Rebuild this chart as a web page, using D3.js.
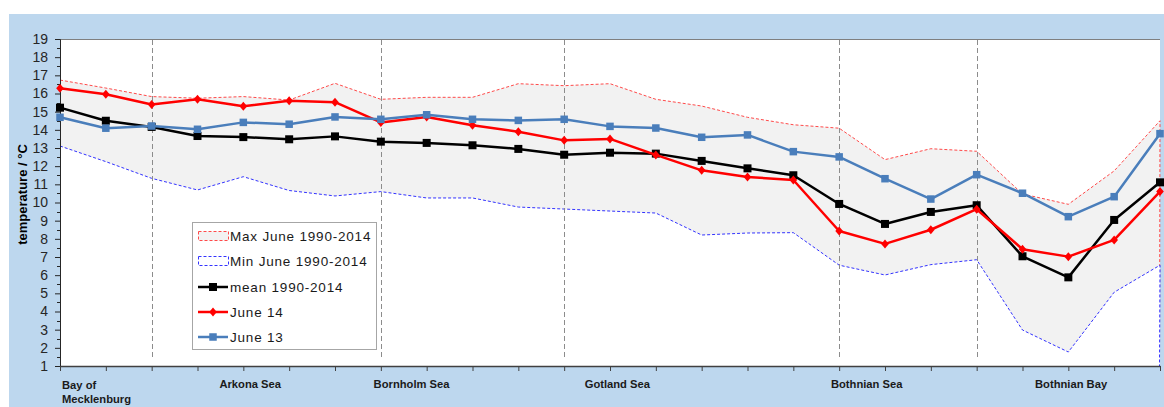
<!DOCTYPE html>
<html>
<head>
<meta charset="utf-8">
<script src="https://cdn.jsdelivr.net/npm/d3@7"></script>
<style>
  body { margin: 0; background: #fff; }
  svg { display: block; font-family: "Liberation Sans", Arial, sans-serif; }
</style>
</head>
<body>
<svg id="chart" width="1164" height="407"></svg>
<script>
// Station sequence along the Baltic transect (Bay of Mecklenburg -> Bothnian Bay)
const stations = [1, 2, 3, 4, 5, 6, 7, 8, 9, 10, 11, 12, 13, 14, 15, 16, 17, 18, 19, 20, 21, 22, 23, 24, 25];

// June surface temperatures, °C
const maxJune = [16.74, 16.3, 15.83, 15.74, 15.83, 15.64, 16.56, 15.68, 15.79, 15.79, 16.54, 16.43, 16.54,
                 15.68, 15.31, 14.69, 14.28, 14.09, 12.36, 12.96, 12.82, 10.47, 9.9, 11.74, 14.5];
const minJune = [13.11, 12.25, 11.33, 10.69, 11.42, 10.66, 10.36, 10.6, 10.25, 10.25, 9.75, 9.64, 9.53,
                 9.42, 8.21, 8.32, 8.34, 6.55, 6.01, 6.58, 6.85, 2.98, 1.77, 5.06, 6.55];
const meanJune = [15.22, 14.5, 14.16, 13.66, 13.6, 13.48, 13.64, 13.35, 13.28, 13.15, 12.95, 12.63, 12.74,
                  12.69, 12.29, 11.88, 11.5, 9.92, 8.82, 9.48, 9.85, 7.04, 5.88, 9.04, 11.11];
const june14 = [16.29, 15.96, 15.39, 15.68, 15.3, 15.6, 15.52, 14.41, 14.71, 14.25, 13.9, 13.42, 13.5,
                12.62, 11.77, 11.4, 11.24, 8.43, 7.72, 8.5, 9.63, 7.43, 7.02, 7.94, 10.6];
const june13 = [14.69, 14.09, 14.21, 14.03, 14.41, 14.31, 14.71, 14.58, 14.83, 14.58, 14.52, 14.58, 14.19,
                14.1, 13.59, 13.72, 12.8, 12.51, 11.31, 10.19, 11.53, 10.51, 9.22, 10.32, 13.79];

// Basin names and where along the station axis they are written
const regionNames = ["Arkona Sea", "Bornholm Sea", "Gotland Sea", "Bothnian Sea", "Bothnian Bay"];
const regionAt = [5.15, 8.67, 13.16, 18.6, 23.06];
// Basin boundaries (station numbers)
const boundaries = [3, 8, 12, 18, 21];

const yTicks = [1, 2, 3, 4, 5, 6, 7, 8, 9, 10, 11, 12, 13, 14, 15, 16, 17, 18, 19];
const yMinorTicks = [1.5, 2.5, 3.5, 4.5, 5.5, 6.5, 7.5, 8.5, 9.5, 10.5, 11.5, 12.5, 13.5, 14.5, 15.5, 16.5, 17.5, 18.5];

const svg = d3.select("#chart");
const W = 1164, H = 407;
const plot = { left: 60, top: 39, right: 1160, bottom: 366 };

// chart background
svg.append("rect").attr("x", 9).attr("y", 14).attr("width", W - 9).attr("height", H - 14).attr("fill", "#bdd7ee");
svg.append("rect").attr("x", plot.left).attr("y", plot.top)
  .attr("width", plot.right - plot.left).attr("height", plot.bottom - plot.top).attr("fill", "#fff");

const x = d3.scaleLinear().domain([1, 25]).range([plot.left, plot.right]);
const y = d3.scaleLinear().domain([1, 19]).range([plot.bottom, plot.top]);

// top border of the plot
svg.append("line").attr("x1", plot.left).attr("x2", plot.right).attr("y1", plot.top + 0.5).attr("y2", plot.top + 0.5)
  .attr("stroke", "#7f7f7f").attr("stroke-width", 1);

// Max / min envelope drawn as areas down to the axis; outline only on top and right edge
const envelope = vals => d3.area()
  .x((d, i) => x(stations[i]))
  .y0(y(1))
  .y1(d => y(d))(vals);
const outline = vals => d3.line()
  .x((d, i) => x(stations[i]))
  .y(d => y(d))(vals) + `L${x(stations[stations.length - 1]) - 0.5},${y(1)}`;

const dash = { width: 1, pattern: "3,2" };
svg.append("path").attr("d", envelope(maxJune)).attr("fill", "#f2f2f2");
svg.append("path").attr("d", outline(maxJune)).attr("fill", "none")
  .attr("stroke", "#ff4a4a").attr("stroke-width", dash.width).attr("stroke-dasharray", dash.pattern);
svg.append("path").attr("d", envelope(minJune)).attr("fill", "#ffffff");
svg.append("path").attr("d", outline(minJune)).attr("fill", "none")
  .attr("stroke", "#3333ff").attr("stroke-width", dash.width).attr("stroke-dasharray", dash.pattern);

// basin boundaries
svg.append("g").selectAll("line").data(boundaries).join("line")
  .attr("x1", d => Math.round(x(d)) + 0.5).attr("x2", d => Math.round(x(d)) + 0.5)
  .attr("y1", plot.top + 1).attr("y2", plot.bottom - 8)
  .attr("stroke", "#8c8c8c").attr("stroke-width", 1).attr("stroke-dasharray", "5,3");

// axes
const yAxis = svg.append("g").attr("transform", `translate(${plot.left},0)`)
  .call(d3.axisLeft(y).tickValues(yTicks).tickSize(5).tickPadding(7).tickFormat(d3.format("d")));
yAxis.select(".domain").attr("stroke", "#262626");
yAxis.selectAll(".tick line").attr("stroke", "#262626");
yAxis.selectAll("text").attr("font-size", 14).attr("fill", "#262626");

svg.append("g").selectAll("line").data(yMinorTicks).join("line")
  .attr("x1", plot.left - 3).attr("x2", plot.left)
  .attr("y1", d => Math.round(y(d)) + 0.5).attr("y2", d => Math.round(y(d)) + 0.5)
  .attr("stroke", "#262626");

const xAxis = svg.append("g").attr("transform", `translate(0,${plot.bottom})`)
  .call(d3.axisBottom(x).tickValues(stations).tickSize(5).tickSizeOuter(0).tickFormat(""));
xAxis.select(".domain").attr("stroke", "#404040").attr("stroke-width", 1.5);
xAxis.selectAll(".tick line").attr("stroke", "#404040");

// basin labels
const labelFont = { size: 11.2, weight: "bold", fill: "#1a1a1a" };
const first = svg.append("text").attr("x", x(1) + 2).attr("y", 389)
  .attr("font-size", labelFont.size).attr("font-weight", labelFont.weight).attr("fill", labelFont.fill);
first.append("tspan").attr("x", x(1) + 2).text("Bay of");
first.append("tspan").attr("x", x(1) + 2).attr("dy", 14).text("Mecklenburg");

svg.append("g").selectAll("text").data(regionNames).join("text")
  .attr("x", (d, i) => x(regionAt[i])).attr("y", 388)
  .attr("text-anchor", "middle")
  .attr("font-size", labelFont.size).attr("font-weight", labelFont.weight).attr("fill", labelFont.fill)
  .text(d => d);

// y axis title
svg.append("text")
  .attr("transform", `translate(27,${(plot.top + plot.bottom) / 2 - 8}) rotate(-90)`)
  .attr("text-anchor", "middle").attr("font-size", 13).attr("font-weight", "bold").attr("fill", "#000")
  .text("temperature / °C");

// line series
const lineGen = d3.line().x((d, i) => x(stations[i])).y(d => y(d));
const series = [
  { name: "mean 1990-2014", values: meanJune, color: "#000000", marker: "square", size: 8 },
  { name: "June 14", values: june14, color: "#ff0000", marker: "diamond", size: 4.5 },
  { name: "June 13", values: june13, color: "#4a7ebb", marker: "square", size: 7.5 }
];

function drawMarker(g, type, cx, cy, size, color) {
  if (type === "square") {
    g.append("rect").attr("x", cx - size / 2).attr("y", cy - size / 2)
      .attr("width", size).attr("height", size).attr("fill", color);
  } else {
    g.append("path")
      .attr("d", `M${cx},${cy - size} L${cx + size * 0.85},${cy} L${cx},${cy + size} L${cx - size * 0.85},${cy} Z`)
      .attr("fill", color);
  }
}

series.forEach(s => {
  const g = svg.append("g");
  g.append("path").attr("d", lineGen(s.values)).attr("fill", "none")
    .attr("stroke", s.color).attr("stroke-width", 2.5).attr("stroke-linejoin", "round");
  s.values.forEach((v, i) => drawMarker(g, s.marker, x(stations[i]), y(v), s.size, s.color));
});

// legend
const lg = svg.append("g");
lg.append("rect").attr("x", 192.5).attr("y", 222.5).attr("width", 184).attr("height", 127)
  .attr("fill", "#fff").attr("stroke", "#a6a6a6");
const legendRows = [
  { name: "Max June 1990-2014", kind: "box", fill: "#f2f2f2", color: "#ff4a4a" },
  { name: "Min June 1990-2014", kind: "box", fill: "#ffffff", color: "#3333ff" },
  { name: series[0].name, kind: "line", s: series[0] },
  { name: series[1].name, kind: "line", s: series[1] },
  { name: series[2].name, kind: "line", s: series[2] }
];
const rowY = [236, 261, 287, 312, 337];
legendRows.forEach((r, i) => {
  const cy = rowY[i];
  if (r.kind === "box") {
    lg.append("rect").attr("x", 198.5).attr("y", cy - 4.5).attr("width", 30).attr("height", 9)
      .attr("fill", r.fill).attr("stroke", r.color).attr("stroke-dasharray", "3,2");
  } else {
    lg.append("line").attr("x1", 198).attr("x2", 228).attr("y1", cy).attr("y2", cy)
      .attr("stroke", r.s.color).attr("stroke-width", 2.5);
    drawMarker(lg, r.s.marker, 213, cy, r.s.size, r.s.color);
  }
  lg.append("text").attr("x", 230).attr("y", cy + 5).attr("font-size", 13.5)
    .attr("letter-spacing", 0.8).attr("fill", "#1a1a1a").text(r.name);
});
</script>
</body>
</html>
